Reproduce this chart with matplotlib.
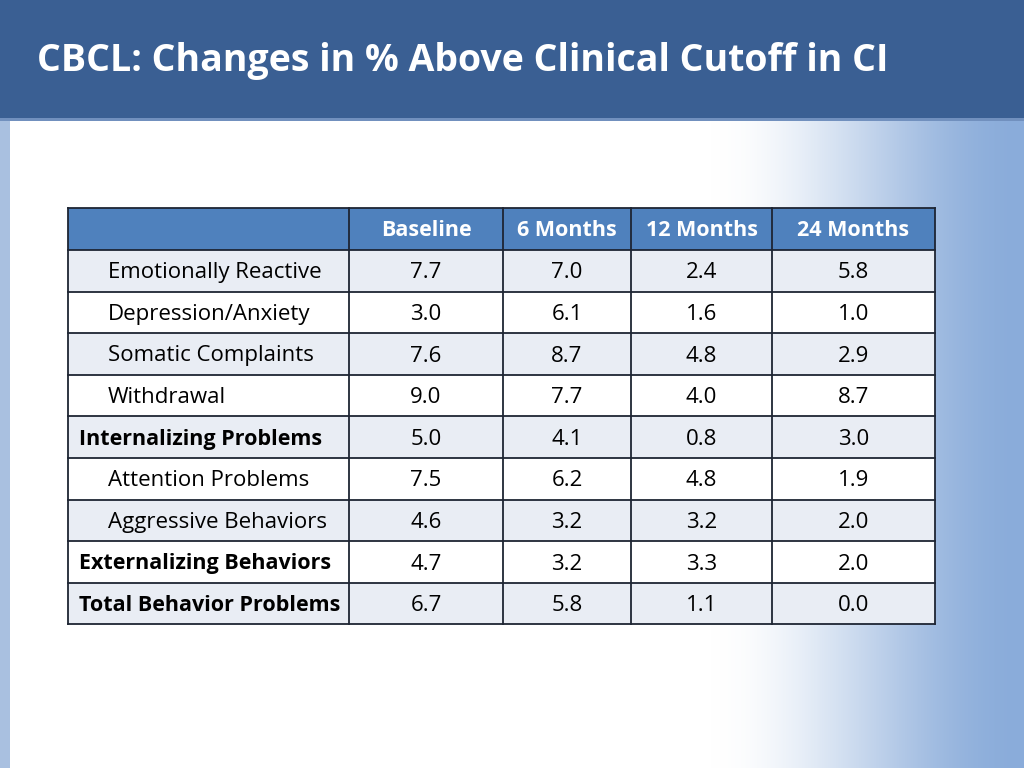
import numpy as np
import matplotlib.pyplot as plt
from matplotlib.patches import Rectangle

plt.rcParams['font.family'] = ['Open Sans', 'DejaVu Sans']

title = 'CBCL: Changes in % Above Clinical Cutoff in CI'
columns = ['Baseline', '6 Months', '12 Months', '24 Months']
rows = ['Emotionally Reactive', 'Depression/Anxiety', 'Somatic Complaints', 'Withdrawal',
        'Internalizing Problems', 'Attention Problems', 'Aggressive Behaviors',
        'Externalizing Behaviors', 'Total Behavior Problems']
bold_rows = [False, False, False, False, True, False, False, True, True]
baseline = [7.7, 3.0, 7.6, 9.0, 5.0, 7.5, 4.6, 4.7, 6.7]
m6 = [7.0, 6.1, 8.7, 7.7, 4.1, 6.2, 3.2, 3.2, 5.8]
m12 = [2.4, 1.6, 4.8, 4.0, 0.8, 4.8, 3.2, 3.3, 1.1]
m24 = [5.8, 1.0, 2.9, 8.7, 3.0, 1.9, 2.0, 2.0, 0.0]
values = np.array([baseline, m6, m12, m24]).T

W, H = 1024, 768
fig = plt.figure(figsize=(10.24, 7.68), dpi=100)
ax = fig.add_axes([0, 0, 1, 1])
ax.set_xlim(0, W)
ax.set_ylim(H, 0)
ax.axis('off')

# background: white fading into light blue on the right
xs = np.arange(W)
t = np.clip((xs - 710) / 314.0, 0, 1)
t = t * t * (3 - 2 * t)
white = np.array([1.0, 1.0, 1.0])
blue = np.array([0x8A, 0xAC, 0xDA]) / 255
bg = white[None, :] * (1 - t[:, None]) + blue[None, :] * t[:, None]
img = np.repeat(bg[None, :, :], H, axis=0)
ax.imshow(img, extent=[0, W, H, 0], aspect='auto', zorder=0)

# left strip
ax.add_patch(Rectangle((0, 118), 10, H - 118, color='#A9C0E0', lw=0, zorder=1))
# header bar
ax.add_patch(Rectangle((0, 0), W, 118, color='#3A5F93', lw=0, zorder=1))
ax.add_patch(Rectangle((0, 118), W, 3, color='#7190BE', lw=0, zorder=1))
ax.text(37, 61, title, color='white', fontsize=27, fontweight='bold',
        va='center', ha='left', zorder=2)

# table
col_x = [68, 349, 503, 631, 772, 935]
top, head_h, row_h = 208, 42, 41.6
line_c = '#1E2533'
fs = 16
fs_b = 15.5
dy = 2  # small nudge so text sits like the original

ax.add_patch(Rectangle((col_x[0], top), col_x[-1] - col_x[0], head_h,
                       color='#4F81BD', lw=0, zorder=2))
for j, c in enumerate(columns):
    cx = (col_x[j + 1] + col_x[j + 2]) / 2
    ax.text(cx, top + head_h / 2 + dy, c, color='white', fontsize=fs_b, fontweight='bold',
            ha='center', va='center', zorder=4)

for i, name in enumerate(rows):
    y0 = top + head_h + i * row_h
    fc = '#E9EDF4' if i % 2 == 0 else 'white'
    ax.add_patch(Rectangle((col_x[0], y0), col_x[-1] - col_x[0], row_h,
                           color=fc, lw=0, zorder=2))
    yc = y0 + row_h / 2 + dy
    if bold_rows[i]:
        ax.text(79, yc, name, fontsize=fs_b, fontweight='bold', color='black',
                ha='left', va='center', zorder=4)
    else:
        ax.text(108, yc, name, fontsize=fs, fontweight='normal', color='black',
                ha='left', va='center', zorder=4)
    for j in range(len(columns)):
        cx = (col_x[j + 1] + col_x[j + 2]) / 2
        ax.text(cx, yc, f'{values[i, j]:.1f}', fontsize=fs, fontweight='normal',
                color='black', ha='center', va='center', zorder=4)

bottom = top + head_h + len(rows) * row_h
for k in range(len(rows) + 2):
    y = top if k == 0 else top + head_h + (k - 1) * row_h
    ax.plot([col_x[0], col_x[-1]], [y, y], color=line_c, lw=1.3, zorder=3)
for x in col_x:
    ax.plot([x, x], [top, bottom], color=line_c, lw=1.3, zorder=3)

fig.savefig('out.png', dpi=100)
